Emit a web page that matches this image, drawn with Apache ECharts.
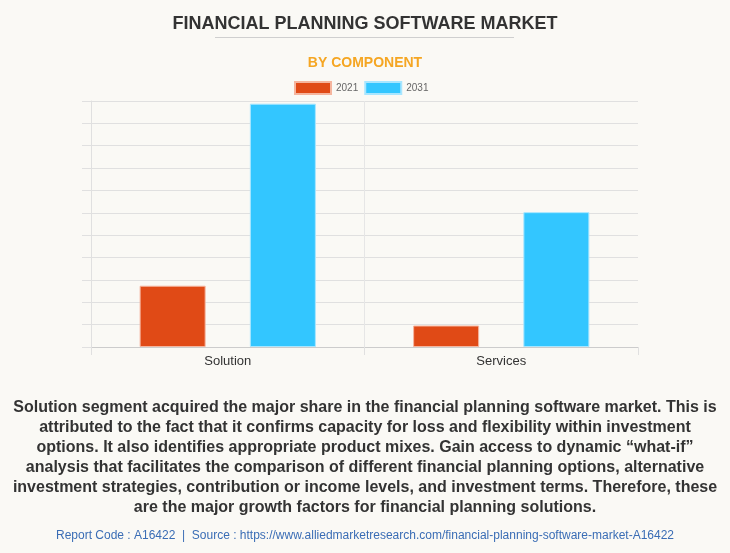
<!DOCTYPE html>
<html>
<head>
<meta charset="utf-8">
<script src="https://cdn.jsdelivr.net/npm/echarts@6/dist/echarts.min.js"></script>
<style>
html,body{margin:0;padding:0;background:#FAF9F5;}
#c{width:730px;height:553px;}
</style>
</head>
<body>
<div id="c"></div>
<script>
const categories = ['Solution', 'Services'];
const seriesNames = ['2021', '2031'];
const values2021 = [2.74, 0.96];
const values2031 = [10.88, 6.03];
const descriptionLines = [
  'Solution segment acquired the major share in the financial planning software market. This is',
  'attributed to the fact that it confirms capacity for loss and flexibility within investment',
  'options. It also identifies appropriate product mixes. Gain access to dynamic \u201cwhat-if\u201d',
  'analysis that facilitates the comparison of different financial planning options, alternative',
  'investment strategies, contribution or income levels, and investment terms. Therefore, these',
  'are the major growth factors for financial planning solutions.'
];
const footerText = 'Report Code : A16422  |  Source : https://www.alliedmarketresearch.com/financial-planning-software-market-A16422';

const chart = echarts.init(document.getElementById('c'));
const font = 'Liberation Sans, Arial, sans-serif';
chart.setOption({
  backgroundColor: '#FAF9F5',
  animation: false,
  title: [
    { text: 'FINANCIAL PLANNING SOFTWARE MARKET', left: 'center', top: 10,
      textStyle: { fontFamily: font, fontSize: 18, fontWeight: 'bold', color: '#333333' } },
    { text: 'BY COMPONENT', left: 'center', top: 51,
      textStyle: { fontFamily: font, fontSize: 14, fontWeight: 'bold', color: '#F5A623' } },
    { text: footerText, left: 'center', top: 525,
      textStyle: { fontFamily: font, fontSize: 12, fontWeight: 'normal', color: '#3A6DB5' } }
  ],
  graphic: [
    { type: 'line', shape: { x1: 215, y1: 37.5, x2: 514, y2: 37.5 }, style: { stroke: '#CFCFCF', lineWidth: 1 } },
    { type: 'text', x: 365, y: 398,
      style: { text: descriptionLines.join('\n'), align: 'center', verticalAlign: 'top',
        font: 'bold 16px Liberation Sans, Arial, sans-serif', lineHeight: 20, fill: '#333333' } }
  ],
  legend: {
    top: 76, left: 289, itemWidth: 36, itemHeight: 12, itemGap: 6, icon: 'rect',
    textStyle: { fontFamily: font, fontSize: 10, color: '#666666' },
    data: seriesNames
  },
  grid: { left: 91, right: 92, top: 101, bottom: 206, containLabel: false },
  xAxis: {
    type: 'category', data: categories,
    axisLine: { lineStyle: { color: '#CCCCCC' } },
    axisTick: { show: true, length: 8, lineStyle: { color: '#E0E0E0' } },
    splitLine: { show: true, showMaxLine: false, lineStyle: { color: '#E6E6E6' } },
    axisLabel: { fontFamily: font, fontSize: 13, color: '#333333', margin: 8 }
  },
  yAxis: {
    type: 'value', min: 0, max: 11, interval: 1,
    axisLine: { show: true, lineStyle: { color: '#E0E0E0' } },
    axisTick: { show: true, length: 9, lineStyle: { color: '#E0E0E0' } },
    splitLine: { lineStyle: { color: '#E0E0E0' } },
    axisLabel: { show: false }
  },
  series: [
    { name: seriesNames[0], type: 'bar', data: values2021, barWidth: 66, barGap: '67%',
      itemStyle: { color: '#E04A16', borderColor: '#F5B59E', borderWidth: 1 } },
    { name: seriesNames[1], type: 'bar', data: values2031, barWidth: 66,
      itemStyle: { color: '#33C6FF', borderColor: '#A8E6FF', borderWidth: 1 } }
  ]
});
</script>
</body>
</html>
